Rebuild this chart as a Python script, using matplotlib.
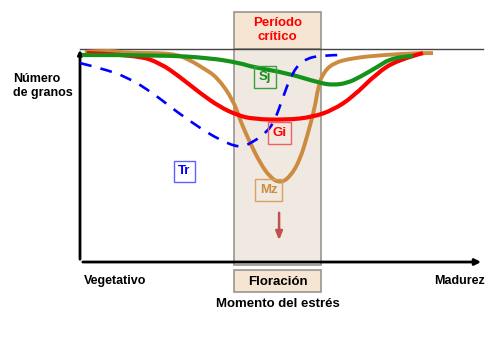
import matplotlib.pyplot as plt
from matplotlib.patches import Rectangle, PathPatch
from matplotlib.path import Path

# eje x: momento del estres (0 = vegetativo, 100 = madurez)
# eje y: numero de granos relativo (100 = sin estres)
sj_x = [0.5, 19.9, 32.3, 39.7, 42.9, 51.4, 59.6, 62.8, 66.3, 69.5, 73.7, 77.7, 82.6]
sj_y = [97.2, 97.2, 95.8, 93.4, 91.5, 88.7, 84.0, 83.1, 84.0, 86.9, 91.5, 96.2, 96.7]

gi_x = [1.7, 14.1, 19.9, 24.8, 29.8, 34.7, 39.0, 42.9, 51.4, 57.8, 62.8, 67.7, 73.7, 78.7, 85.1]
gi_y = [98.1, 97.2, 93.4, 86.9, 79.3, 72.8, 69.0, 67.1, 66.7, 68.1, 71.4, 77.5, 88.7, 94.8, 98.1]

mz_x = [1.2, 6.9, 11.7, 23.1, 27.3, 30.5, 34.0, 38.0, 39.7, 42.2, 44.7, 47.1, 49.6,
        52.1, 54.6, 56.6, 58.3, 59.1, 60.3, 62.8, 67.7, 75.2, 83.6, 87.6]
mz_y = [98.6, 99.5, 98.1, 98.1, 94.8, 91.1, 86.9, 76.1, 66.7, 55.9, 46.5, 39.9, 37.0,
        39.9, 47.9, 60.6, 72.8, 82.2, 88.7, 93.4, 95.8, 97.2, 98.1, 98.1]

tr_x = [0, 5.0, 11.7, 18.1, 24.1, 29.8, 34.7, 39.7, 42.9, 46.4, 48.4, 50.4, 52.6, 55.3, 59.6, 65.8]
tr_y = [93.4, 91.1, 86.9, 79.3, 70.4, 62.9, 57.3, 53.5, 56.3, 61.0, 66.7, 77.5, 88.7, 94.8, 97.2, 97.2]

periodo = (38.2, 59.8)

plt.rcParams['font.family'] = ['Liberation Sans', 'DejaVu Sans']
fig = plt.figure(figsize=(5, 3.61), dpi=100)
ax = fig.add_axes([0.16, 0.2742, 0.806, 0.590])
ax.set_xlim(0, 100)
ax.set_ylim(0, 100)
ax.axis('off')


def curva(xs, ys, **kw):
    # trazo suave: bezier cuadratica entre puntos medios
    pts = list(zip(xs, ys))
    verts = [pts[0]]
    codes = [Path.MOVETO]
    for i in range(1, len(pts) - 1):
        mid = ((pts[i][0] + pts[i + 1][0]) / 2, (pts[i][1] + pts[i + 1][1]) / 2)
        if i == len(pts) - 2:
            mid = pts[-1]
        verts += [pts[i], mid]
        codes += [Path.CURVE3, Path.CURVE3]
    ax.add_patch(PathPatch(Path(verts, codes), facecolor='none', capstyle='butt',
                           joinstyle='round', **kw))


# periodo critico
ax.add_patch(Rectangle((periodo[0], 100), periodo[1] - periodo[0], 17.4,
                       facecolor='#f5e5d2', edgecolor='#9a9590', lw=1.2, clip_on=False, zorder=1))
ax.add_patch(Rectangle((periodo[0], -1.4), periodo[1] - periodo[0], 101.4,
                       facecolor='#efe9e1', edgecolor='#9a9590', lw=1.2, clip_on=False, zorder=1))
ax.text(sum(periodo) / 2, 108.9, 'Período\ncrítico', color='#ff0000', fontsize=9.5,
        fontweight='bold', ha='center', va='center', linespacing=1.15)

# floracion
ax.add_patch(Rectangle((periodo[0], -14.1), periodo[1] - periodo[0], 10.3,
                       facecolor='#f5e5d2', edgecolor='#9a9590', lw=1.2, clip_on=False))
ax.text(sum(periodo) / 2, -9.2, 'Floración', fontsize=9.5, fontweight='bold',
        ha='center', va='center')
ax.text(sum(periodo) / 2, -19.9, 'Momento del estrés', fontsize=9.5, fontweight='bold',
        ha='center', va='center')
ax.text(1.0, -8.9, 'Vegetativo', fontsize=9, fontweight='bold', ha='left', va='center')
ax.text(100.5, -8.9, 'Madurez', fontsize=9, fontweight='bold', ha='right', va='center')
ax.text(-16.6, 82.6, 'Número\nde granos', fontsize=9, fontweight='bold', ha='left',
        va='center', linespacing=1.25)

# ejes
ax.plot([0, 100], [100, 100], color='#444444', lw=1.0, clip_on=False, zorder=2)
ax.annotate('', xy=(100.2, 0), xytext=(0, 0),
            arrowprops=dict(arrowstyle='-|>,head_length=0.35,head_width=0.18', lw=2, color='black'),
            annotation_clip=False, zorder=3)
ax.annotate('', xy=(0, 101), xytext=(0, 0),
            arrowprops=dict(arrowstyle='-|>,head_length=0.25,head_width=0.12', lw=2, color='black'),
            annotation_clip=False, zorder=3)

# curvas
curva(mz_x, mz_y, edgecolor='#cc8b3e', lw=2.8, zorder=4)
curva(gi_x, gi_y, edgecolor='#ff0000', lw=3.0, zorder=5)
curva(sj_x, sj_y, edgecolor='#15921a', lw=3.0, zorder=6)
curva(tr_x, tr_y, edgecolor='#0000ff', lw=1.9, linestyle=(0, (4.5, 3.5)), zorder=7)


# etiquetas de cultivo
def etiqueta(x, y, s, c, ec):
    ax.text(x, y, s, color=c, fontsize=9.5, fontweight='bold', ha='center', va='center', zorder=8,
            bbox=dict(boxstyle='square,pad=0.35', facecolor='none', edgecolor=ec, lw=1))


etiqueta(45.9, 86.9, 'Sj', '#15921a', '#3aa03a')
etiqueta(49.5, 60.6, 'Gi', '#ff0000', '#f06060')
etiqueta(25.9, 42.5, 'Tr', '#0000ff', '#6060ff')
etiqueta(46.8, 33.8, 'Mz', '#cc8b3e', '#d9a060')

ax.annotate('', xy=(49.4, 8.9), xytext=(49.4, 24.4),
            arrowprops=dict(arrowstyle='-|>,head_length=0.5,head_width=0.2', lw=1.8, color='#c0504d'))

fig.savefig('out.png', dpi=100)
